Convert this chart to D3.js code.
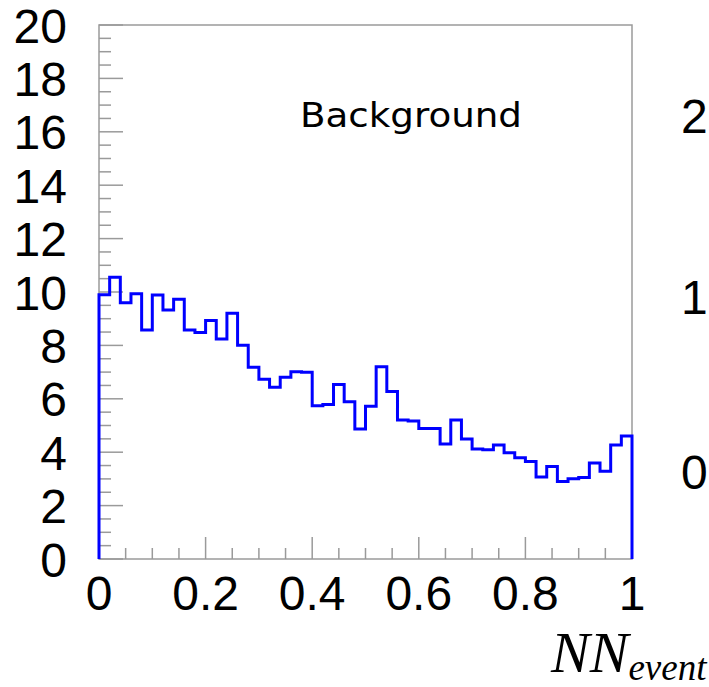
<!DOCTYPE html>
<html>
<head>
<meta charset="utf-8">
<script src="https://cdn.jsdelivr.net/npm/d3@7"></script>
<style>
  html, body { margin: 0; padding: 0; background: #fff; }
  svg { display: block; }
  .tick-label { font-family: "Liberation Sans", Arial, sans-serif; font-size: 48px; fill: #000; }
</style>
</head>
<body>
<svg id="the-svg" width="709" height="687"></svg>
<script>
// bin contents, 50 bins of width 0.02 on [0, 1]
const BIN_EDGES_RANGE = [0, 1];
const BIN_VALUES = [
  9.9, 10.55, 9.6, 9.93, 8.58, 9.89, 9.33, 9.73, 8.58, 8.48,
  8.93, 8.24, 9.2, 8.01, 7.18, 6.73, 6.43, 6.81, 7.01, 6.99,
  5.74, 5.79, 6.54, 5.89, 4.87, 5.72, 7.2, 6.27, 5.21, 5.17,
  4.89, 4.89, 4.31, 5.21, 4.49, 4.12, 4.09, 4.27, 3.98, 3.79,
  3.65, 3.07, 3.46, 2.9, 3.01, 3.05, 3.6, 3.29, 4.27, 4.61
];
const Y_TICKS = [0, 2, 4, 6, 8, 10, 12, 14, 16, 18, 20];
const X_TICKS = [0, 0.2, 0.4, 0.6, 0.8, 1];
const X_TICK_LABELS = ['0', '0.2', '0.4', '0.6', '0.8', '1'];
const TITLE = 'Background';
// labels of the neighbouring pad that peek in on the right
const NEXT_PAD_LABELS = ['2', '1', '0'];

const svg = d3.select('#the-svg');

const padLeft = 99, padRight = 632, padTop = 25, padBottom = 559;

const x = d3.scaleLinear().domain(BIN_EDGES_RANGE).range([padLeft, padRight]);
const y = d3.scaleLinear().domain([0, 20]).range([padBottom, padTop]);

const FRAME_COLOR = '#9a9a9a';

// frame
svg.append('rect')
  .attr('x', padLeft).attr('y', padTop)
  .attr('width', padRight - padLeft).attr('height', padBottom - padTop)
  .attr('fill', 'none')
  .attr('stroke', FRAME_COLOR)
  .attr('stroke-width', 1.5);

// y ticks: major every 2, minor every 0.5, pointing inward
const yMinor = d3.range(0, 20.001, 0.5);
svg.append('g')
  .selectAll('line')
  .data(yMinor)
  .enter()
  .append('line')
    .attr('x1', padLeft)
    .attr('x2', d => padLeft + (Math.abs(d % 2) < 1e-6 ? 24 : 12))
    .attr('y1', d => y(d))
    .attr('y2', d => y(d))
    .attr('stroke', FRAME_COLOR)
    .attr('stroke-width', 1.5);

// x ticks: major every 0.2, minor every 0.05, pointing upward
const xMinor = d3.range(0, 1.0001, 0.05);
svg.append('g')
  .selectAll('line')
  .data(xMinor)
  .enter()
  .append('line')
    .attr('x1', d => x(d))
    .attr('x2', d => x(d))
    .attr('y1', padBottom)
    .attr('y2', d => padBottom - (Math.abs(Math.round(d / 0.05) % 4) === 0 ? 22 : 11))
    .attr('stroke', FRAME_COLOR)
    .attr('stroke-width', 1.5);

// y tick labels
svg.append('g')
  .selectAll('text')
  .data(Y_TICKS)
  .enter()
  .append('text')
    .attr('class', 'tick-label')
    .attr('x', 67)
    .attr('y', d => y(d) + 17.5)
    .attr('text-anchor', 'end')
    .text(d => d);

// x tick labels
svg.append('g')
  .selectAll('text')
  .data(X_TICKS)
  .enter()
  .append('text')
    .attr('class', 'tick-label')
    .attr('x', d => x(d))
    .attr('y', 610)
    .attr('text-anchor', 'middle')
    .text((d, i) => X_TICK_LABELS[i]);

// histogram outline
const binWidth = (BIN_EDGES_RANGE[1] - BIN_EDGES_RANGE[0]) / BIN_VALUES.length;
const pts = [[0, 0]];
BIN_VALUES.forEach((v, i) => {
  pts.push([i * binWidth, v]);
  pts.push([(i + 1) * binWidth, v]);
});
pts.push([1, 0]);

svg.append('path')
  .attr('d', d3.line().x(d => x(d[0])).y(d => y(d[1]))(pts))
  .attr('fill', 'none')
  .attr('stroke', '#0000ff')
  .attr('stroke-width', 3)
  .attr('stroke-linejoin', 'miter');

// title inside the pad
svg.append('text')
  .attr('x', 300)
  .attr('y', 127)
  .attr('font-family', '"DejaVu Sans", sans-serif')
  .attr('font-size', 34)
  .attr('textLength', 222)
  .attr('lengthAdjust', 'spacingAndGlyphs')
  .text(TITLE);

// neighbouring pad labels
const nextPadY = [133, 314, 489];
svg.append('g')
  .selectAll('text')
  .data(NEXT_PAD_LABELS)
  .enter()
  .append('text')
    .attr('class', 'tick-label')
    .attr('x', 681)
    .attr('y', (d, i) => nextPadY[i])
    .text(d => d);

// axis title NN_event
const axisTitle = svg.append('text')
  .attr('x', 551)
  .attr('y', 672)
  .attr('font-family', '"Liberation Serif", "Times New Roman", serif')
  .attr('font-style', 'italic');
axisTitle.append('tspan')
  .attr('font-size', 58)
  .text('NN');
axisTitle.append('tspan')
  .attr('font-size', 37)
  .attr('dy', 8)
  .text('event');
</script>
</body>
</html>
